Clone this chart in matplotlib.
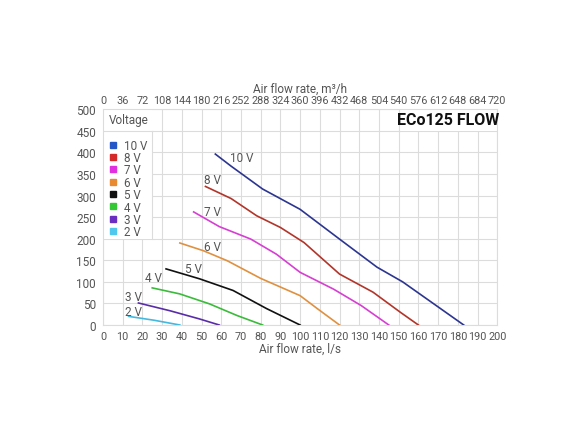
import matplotlib.pyplot as plt
from matplotlib.patches import Rectangle
from matplotlib.lines import Line2D

plt.rcParams['font.family'] = ['Roboto', 'DejaVu Sans']

# fan curves: flow l/s, pressure Pa
flow_10 = [57, 65, 81, 100, 120, 139, 152, 183]
pres_10 = [396, 368, 315, 268, 199, 134, 100, 0]
flow_8 = [52, 65, 78, 90, 102, 120, 137, 151, 160]
pres_8 = [321, 293, 253, 226, 191, 118, 76, 29, 0]
flow_7 = [46, 59, 75, 88, 100, 117, 131, 145]
pres_7 = [262, 228, 199, 164, 122, 83, 45, 0]
flow_6 = [39, 51, 63, 80, 100, 109, 120]
pres_6 = [190, 172, 149, 108, 68, 37, 0]
flow_5 = [32, 49, 66, 83, 100]
pres_5 = [130, 107, 80, 38, 0]
flow_4 = [25, 39, 54, 68, 81]
pres_4 = [86, 72, 49, 22, 0]
flow_3 = [18, 34, 49, 59]
pres_3 = [51, 33, 14, 0]
flow_2 = [13, 26, 39]
pres_2 = [20, 11, 0]

voltages = ['10 V', '8 V', '7 V', '6 V', '5 V', '4 V', '3 V', '2 V']
line_colors = ['#2c3590', '#b2352a', '#d63fd2', '#e0913f', '#111111', '#3cba3c', '#5a2da8', '#45b8e0']
key_colors = ['#2456c8', '#d42a2a', '#e030e0', '#e88a30', '#111111', '#35c835', '#6a2fc0', '#50c8ee']
curves = [(flow_10, pres_10), (flow_8, pres_8), (flow_7, pres_7), (flow_6, pres_6),
          (flow_5, pres_5), (flow_4, pres_4), (flow_3, pres_3), (flow_2, pres_2)]
label_pos = [(64.5, 387), (51.5, 336), (51.5, 264), (51.5, 183), (41.5, 132), (21.5, 109), (11, 65), (11, 32)]

grid_col = '#dcdcdc'
txt_col = '#555555'

fig = plt.figure(figsize=(5.85, 4.39), dpi=100)
ax = fig.add_axes([0.176, 0.2574, 0.674, 0.4916])
ax.set_xlim(0, 200)
ax.set_ylim(0, 500)
ax.set_xticks(range(0, 201, 10))
ax.set_yticks(range(0, 501, 50))
ax.set_axisbelow(True)
ax.grid(True, color=grid_col, linewidth=0.8)
for s in ax.spines.values():
    s.set_color(grid_col)
ax.tick_params(axis='y', length=0, labelsize=8.5, labelcolor=txt_col, pad=5)
ax.tick_params(axis='x', length=0, labelsize=7.8, labelcolor=txt_col, pad=4)
ax.set_xlabel('Air flow rate, l/s', fontsize=8.5, color=txt_col, labelpad=1)

top = ax.secondary_xaxis('top', functions=(lambda v: v * 3.6, lambda v: v / 3.6))
top.set_xticks(range(0, 721, 36))
top.tick_params(length=0, labelsize=7.8, labelcolor=txt_col, pad=3)
top.spines['top'].set_visible(False)
top.set_xlabel('Air flow rate, m³/h', fontsize=8.5, color=txt_col, labelpad=2)

# white panels for key and title
ax.add_patch(Rectangle((0, 200), 25, 300, facecolor='white', edgecolor='none', zorder=0.6))
ax.plot([0, 25], [450, 450], color=grid_col, lw=0.8, zorder=0.7)
ax.plot([25, 25], [200, 450], color=grid_col, lw=0.8, zorder=0.7)
ax.add_patch(Rectangle((150, 450), 50, 50, facecolor='white', edgecolor='none', zorder=0.6))
ax.plot([150, 150], [450, 500], color=grid_col, lw=0.8, zorder=0.7)
ax.text(175, 475, 'ECo125 FLOW', fontsize=11.5, fontweight='bold', color='#111111',
        ha='center', va='center')
ax.text(3, 475, 'Voltage', fontsize=8.5, color=txt_col, va='center')

for (fx, py), col, lab, pos in zip(curves, line_colors, voltages, label_pos):
    ax.plot(fx, py, color=col, lw=1.2, zorder=3)
    ax.text(pos[0], pos[1], lab, fontsize=8.5, color=txt_col, va='center')

handles = [Line2D([], [], ls='none', marker='s', markersize=5, color=c) for c in key_colors]
ax.legend(handles, voltages, loc='upper left', bbox_to_anchor=(0.0, 0.89), frameon=False,
          fontsize=8.4, labelcolor=txt_col, handlelength=0.8, handletextpad=0.5,
          labelspacing=-0.055, borderpad=0.0, borderaxespad=0.5)

fig.savefig('out.png', dpi=100)
